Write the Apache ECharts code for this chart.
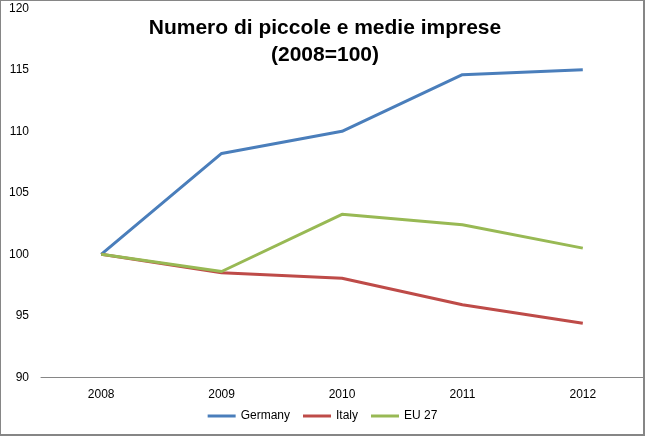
<!DOCTYPE html>
<html>
<head>
<meta charset="utf-8">
<script src="https://cdn.jsdelivr.net/npm/echarts@6/dist/echarts.min.js"></script>
<style>
html,body{margin:0;padding:0;background:#fff;}
#wrap{position:absolute;left:0;top:0;width:645px;height:436px;box-sizing:border-box;border:1px solid #868686;border-right:2px solid #868686;border-bottom:2px solid #868686;}
#chart{position:absolute;left:0;top:0;width:645px;height:436px;}
</style>
</head>
<body>
<div id="chart"></div>
<div id="wrap"></div>
<script>
const categories = ['2008', '2009', '2010', '2011', '2012'];
const germany = [100, 108.2, 110.0, 114.6, 115.0];
const italy = [100, 98.5, 98.05, 95.9, 94.4];
const eu27 = [100, 98.6, 103.25, 102.4, 100.5];
const seriesNames = ['Germany', 'Italy', 'EU 27'];
const titleText = 'Numero di piccole e medie imprese\n(2008=100)';

const font = 'Liberation Sans, Arial, sans-serif';
const chart = echarts.init(document.getElementById('chart'), null, {renderer: 'canvas'});
const colors = ['#4A7EBB', '#BE4B48', '#98B954'];
const mk = (name, data, i) => ({
  name, type: 'line', data, symbol: 'none', smooth: false,
  lineStyle: {width: 3, color: colors[i]}, itemStyle: {color: colors[i]},
  animation: false
});
chart.setOption({
  animation: false,
  title: {
    text: titleText, left: 320, top: 10, textAlign: 'center',
    textStyle: {fontFamily: font, fontSize: 21, fontWeight: 'bold', color: '#000', lineHeight: 27}
  },
  grid: {left: 41, right: 2, top: 8.3, bottom: 58.7, containLabel: false},
  legend: {
    data: seriesNames, top: 405, left: 'center',
    icon: 'rect', itemWidth: 28, itemHeight: 3, itemGap: 13,
    textStyle: {fontFamily: font, fontSize: 12, color: '#000'}
  },
  xAxis: {
    type: 'category', data: categories, boundaryGap: true,
    axisLine: {show: true, lineStyle: {color: '#868686', width: 1}},
    axisTick: {show: false},
    axisLabel: {fontFamily: font, fontSize: 12, color: '#000', margin: 11},
    splitLine: {show: false}
  },
  yAxis: {
    type: 'value', min: 90, max: 120, interval: 5,
    axisLine: {show: false}, axisTick: {show: false},
    axisLabel: {fontFamily: font, fontSize: 12, color: '#000', margin: 12},
    splitLine: {show: false}
  },
  series: [mk(seriesNames[0], germany, 0), mk(seriesNames[1], italy, 1), mk(seriesNames[2], eu27, 2)]
});
</script>
</body>
</html>
